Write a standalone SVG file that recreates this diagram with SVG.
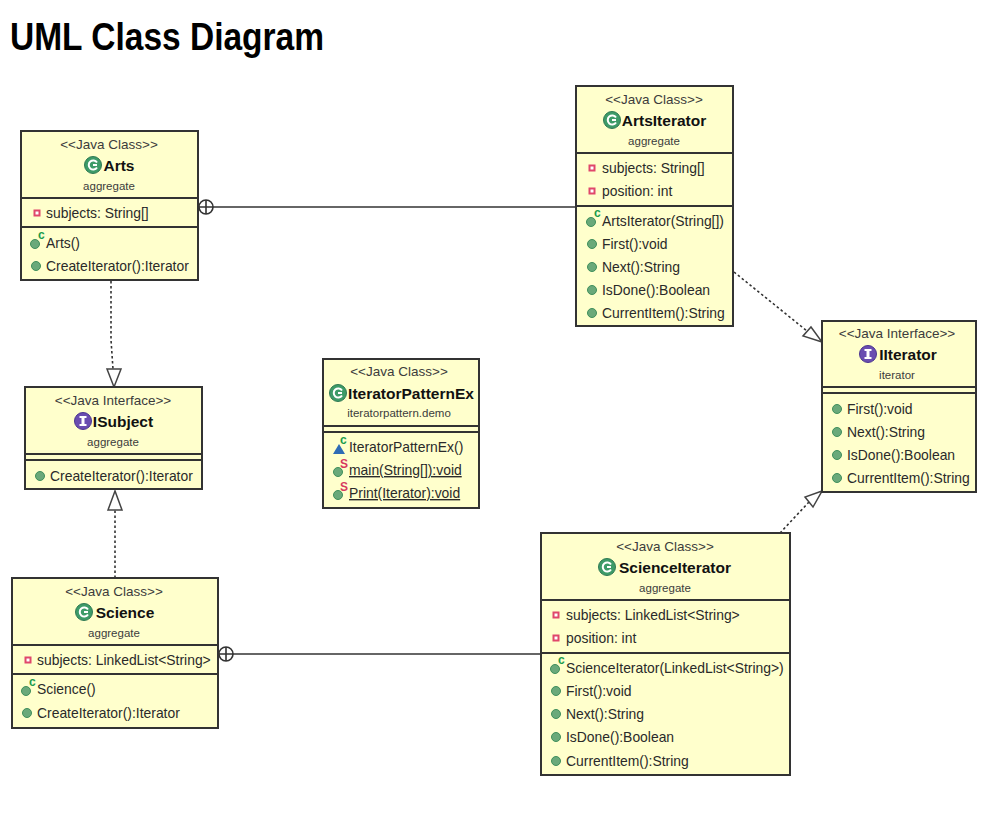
<svg xmlns="http://www.w3.org/2000/svg" width="1006" height="817" viewBox="0 0 1006 817">
<style>
text{font-family:"Liberation Sans",Arial,sans-serif;fill:#2a2a2a}
.title{font-size:38px;font-weight:bold;fill:#000}
.st{font-size:13.5px;text-anchor:middle;fill:#3c3c3c}
.nm{font-size:15.5px;font-weight:bold;text-anchor:middle;fill:#111}
.pk{font-size:11.5px;text-anchor:middle;fill:#3c3c3c}
.m{font-size:13.9px}
.u{text-decoration:underline}
.sup{font-size:12px;font-weight:bold}
.c{fill:#1b9b4c}
.s{fill:#d6395f}
.box{fill:#ffffcc;stroke:#333;stroke-width:2}
.div{stroke:#333;stroke-width:2}
.dash{fill:none;stroke:#333;stroke-width:1.6;stroke-dasharray:2.5 2.5}
.solid{fill:none;stroke:#333;stroke-width:1.6}
.tri{fill:#fff;stroke:#444;stroke-width:1.5}
</style>
<defs>
<g id="pub"><circle r="4.5" fill="#6aa97a" stroke="#3f8f5c"/></g>
<g id="priv"><rect x="-2.5" y="-2.5" width="5" height="5" fill="#fff" stroke="#e0476b" stroke-width="2"/></g>
<g id="cls"><circle r="8.5" fill="#3d9b68" stroke="#2f7a54"/><path d="M4 -2.5A4.5 4.5 0 1 0 4 2.5" fill="none" stroke="#fff" stroke-width="2"/><rect x="0" y="-1" width="4" height="2" fill="#fff"/></g>
<g id="ifc"><circle r="8.5" fill="#6a4db0" stroke="#4b3590"/><rect x="-1.5" y="-4.5" width="3" height="9" fill="#fff"/><rect x="-3.5" y="-5" width="7" height="2" fill="#fff"/><rect x="-3.5" y="3" width="7" height="2" fill="#fff"/></g>
</defs>
<text class="title" x="10" y="50" textLength="314" lengthAdjust="spacingAndGlyphs">UML Class Diagram</text>

<g id="connectors">
<path class="solid" d="M213 207H576"/>
<circle class="solid" cx="206" cy="207" r="7"/><path class="solid" d="M199 207H213M206 200V214"/>
<path class="solid" d="M233 654H541"/>
<circle class="solid" cx="226" cy="654" r="7"/><path class="solid" d="M219 654H233M226 647V661"/>
<path class="dash" d="M111 281V340L113 369"/>
<polygon class="tri" points="114,387 107,369 121,369"/>
<path class="dash" d="M115 578V510"/>
<polygon class="tri" points="115,491 108,510 122,510"/>
<path class="dash" d="M734 272L807 331"/>
<polygon class="tri" points="822,342 803,336 811,327"/>
<path class="dash" d="M780 533L809 502"/>
<polygon class="tri" points="822,491 805,497 813,507"/>
</g>

<g id="Arts">
<rect class="box" x="21" y="131" width="177" height="149"/>
<path class="div" d="M21 198H198M21 227H198"/>
<text class="st" x="109" y="149">&lt;&lt;Java Class&gt;&gt;</text>
<use href="#cls" x="93" y="165"/><text class="nm" x="119" y="171">Arts</text>
<text class="pk" x="109" y="190">aggregate</text>
<use href="#priv" x="37" y="213"/><text class="m" x="46" y="218">subjects: String[]</text>
<use href="#pub" x="35" y="244"/><text class="sup c" x="38" y="239">c</text><text class="m" x="46" y="248">Arts()</text>
<use href="#pub" x="36" y="266"/><text class="m" x="46" y="271">CreateIterator():Iterator</text>
</g>

<g id="ArtsIterator">
<rect class="box" x="576" y="86" width="157" height="240"/>
<path class="div" d="M576 153H733M576 206H733"/>
<text class="st" x="654" y="104">&lt;&lt;Java Class&gt;&gt;</text>
<use href="#cls" x="612" y="120"/><text class="nm" x="664" y="126">ArtsIterator</text>
<text class="pk" x="654" y="145">aggregate</text>
<use href="#priv" x="592" y="168"/><text class="m" x="602" y="173">subjects: String[]</text>
<use href="#priv" x="592" y="191"/><text class="m" x="602" y="196">position: int</text>
<use href="#pub" x="591" y="222"/><text class="sup c" x="594" y="217">c</text><text class="m" x="602" y="226">ArtsIterator(String[])</text>
<use href="#pub" x="592" y="244"/><text class="m" x="602" y="249">First():void</text>
<use href="#pub" x="592" y="267"/><text class="m" x="602" y="272">Next():String</text>
<use href="#pub" x="592" y="290"/><text class="m" x="602" y="295">IsDone():Boolean</text>
<use href="#pub" x="592" y="313"/><text class="m" x="602" y="318">CurrentItem():String</text>
</g>

<g id="IIterator">
<rect class="box" x="822" y="321" width="154" height="171"/>
<path class="div" d="M822 387H976M822 393H976"/>
<text class="st" x="897" y="338">&lt;&lt;Java Interface&gt;&gt;</text>
<use href="#ifc" x="868" y="354"/><text class="nm" x="908" y="360">IIterator</text>
<text class="pk" x="897" y="379">iterator</text>
<use href="#pub" x="837" y="409"/><text class="m" x="847" y="414">First():void</text>
<use href="#pub" x="837" y="432"/><text class="m" x="847" y="437">Next():String</text>
<use href="#pub" x="837" y="455"/><text class="m" x="847" y="460">IsDone():Boolean</text>
<use href="#pub" x="837" y="478"/><text class="m" x="847" y="483">CurrentItem():String</text>
</g>

<g id="ISubject">
<rect class="box" x="25" y="387" width="177" height="102"/>
<path class="div" d="M25 454H202M25 460H202"/>
<text class="st" x="113" y="405">&lt;&lt;Java Interface&gt;&gt;</text>
<use href="#ifc" x="83" y="421"/><text class="nm" x="123" y="427">ISubject</text>
<text class="pk" x="113" y="446">aggregate</text>
<use href="#pub" x="40" y="476"/><text class="m" x="50" y="481">CreateIterator():Iterator</text>
</g>

<g id="IteratorPatternEx">
<rect class="box" x="323" y="359" width="156" height="149"/>
<path class="div" d="M323 426H479M323 432H479"/>
<text class="st" x="399" y="376">&lt;&lt;Java Class&gt;&gt;</text>
<use href="#cls" x="338" y="393"/><text class="nm" x="411" y="399">IteratorPatternEx</text>
<text class="pk" x="399" y="417">iteratorpattern.demo</text>
<polygon points="333,454 345,454 339,444" fill="#2f6cb5"/><text class="sup c" x="340" y="444">c</text><text class="m" x="349" y="452">IteratorPatternEx()</text>
<use href="#pub" x="338" y="472"/><text class="sup s" x="340" y="468">S</text><text class="m u" x="349" y="475">main(String[]):void</text>
<use href="#pub" x="338" y="495"/><text class="sup s" x="340" y="491">S</text><text class="m u" x="349" y="498">Print(Iterator):void</text>
</g>

<g id="Science">
<rect class="box" x="12" y="578" width="206" height="150"/>
<path class="div" d="M12 645H218M12 674H218"/>
<text class="st" x="114" y="596">&lt;&lt;Java Class&gt;&gt;</text>
<use href="#cls" x="84" y="612"/><text class="nm" x="125" y="618">Science</text>
<text class="pk" x="114" y="637">aggregate</text>
<use href="#priv" x="28" y="660"/><text class="m" x="37" y="665">subjects: LinkedList&lt;String&gt;</text>
<use href="#pub" x="26" y="691"/><text class="sup c" x="29" y="686">c</text><text class="m" x="37" y="694">Science()</text>
<use href="#pub" x="27" y="713"/><text class="m" x="37" y="718">CreateIterator():Iterator</text>
</g>

<g id="ScienceIterator">
<rect class="box" x="541" y="533" width="249" height="242"/>
<path class="div" d="M541 600H790M541 653H790"/>
<text class="st" x="665" y="551">&lt;&lt;Java Class&gt;&gt;</text>
<use href="#cls" x="607" y="567"/><text class="nm" x="675" y="573">ScienceIterator</text>
<text class="pk" x="665" y="592">aggregate</text>
<use href="#priv" x="556" y="615"/><text class="m" x="566" y="620">subjects: LinkedList&lt;String&gt;</text>
<use href="#priv" x="556" y="638"/><text class="m" x="566" y="643">position: int</text>
<use href="#pub" x="555" y="669"/><text class="sup c" x="558" y="664">c</text><text class="m" x="566" y="673">ScienceIterator(LinkedList&lt;String&gt;)</text>
<use href="#pub" x="556" y="691"/><text class="m" x="566" y="696">First():void</text>
<use href="#pub" x="556" y="714"/><text class="m" x="566" y="719">Next():String</text>
<use href="#pub" x="556" y="737"/><text class="m" x="566" y="742">IsDone():Boolean</text>
<use href="#pub" x="556" y="761"/><text class="m" x="566" y="766">CurrentItem():String</text>
</g>
</svg>
